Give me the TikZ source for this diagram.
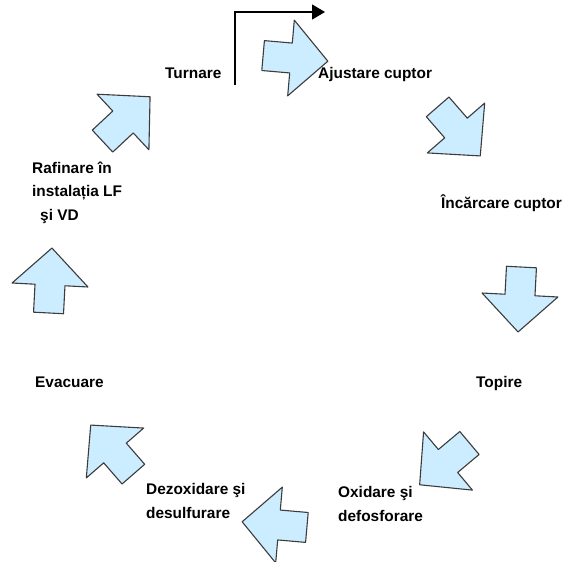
\documentclass[tikz,border=0pt]{standalone}
\usepackage{fontspec}
\setmainfont{Liberation Sans}
\usetikzlibrary{arrows.meta}

\definecolor{azur}{HTML}{CCECFF}
\definecolor{contur}{HTML}{3C3C3C}

\tikzstyle{etapa}= [inner sep=0pt,anchor=base west,align=left,font=\bfseries\fontsize{15.4}{23.5}\selectfont]
\tikzstyle{sageata}= [draw=contur,fill=azur,line width=1.1pt,line join=round]
\tikzset{bloc/.pic={\path[sageata] (-28,-15) -- (0,-15) -- (0,-38) -- (37,0) -- (0,38) -- (0,15) -- (-28,15) -- cycle;}}

\begin{document}
\begin{tikzpicture}[x=1pt,y=-1pt]
		\useasboundingbox (0,0) rectangle (563,562);

		\node (turnare) at (165,78) [etapa] {Turnare};
		\node (ajustare) at (318,78) [etapa] {Ajustare cuptor};
		\node (incarcare) at (441,208) [etapa] {Încărcare cuptor};
		\node (topire) at (476,387) [etapa] {Topire};
		% baza = ultimul rand
		\node (oxidare) at (338,521) [etapa] {Oxidare şi\\defosforare};
		\node (dezoxidare) at (146,518) [etapa] {Dezoxidare şi\\desulfurare};
		\node (evacuare) at (35,387) [etapa] {Evacuare};
		\node (rafinare) at (32,220) [etapa] {Rafinare în\\instalația LF\\\hspace*{8pt}şi VD};

		\pic[rotate=-5] at (291,58) {bloc};
		\pic[rotate=-49] at (456,128) {bloc};
		\pic[rotate=-93] at (520,295) {bloc};
		\pic[rotate=-140] at (448,461) {bloc};
		\pic[rotate=175] at (279,525) {bloc};
		\pic[rotate=131] at (115,453) {bloc};
		\pic[rotate=87] at (50,285) {bloc};
		\pic[rotate=43] at (123,122) {bloc};

		\coordinate (start) at (235,85);
		\coordinate (tinta) at (325,12);
		\draw[black,line width=1.5pt,-{Triangle[length=13pt,width=15pt]}] (start) |- (tinta);

	\end{tikzpicture}
\end{document}
